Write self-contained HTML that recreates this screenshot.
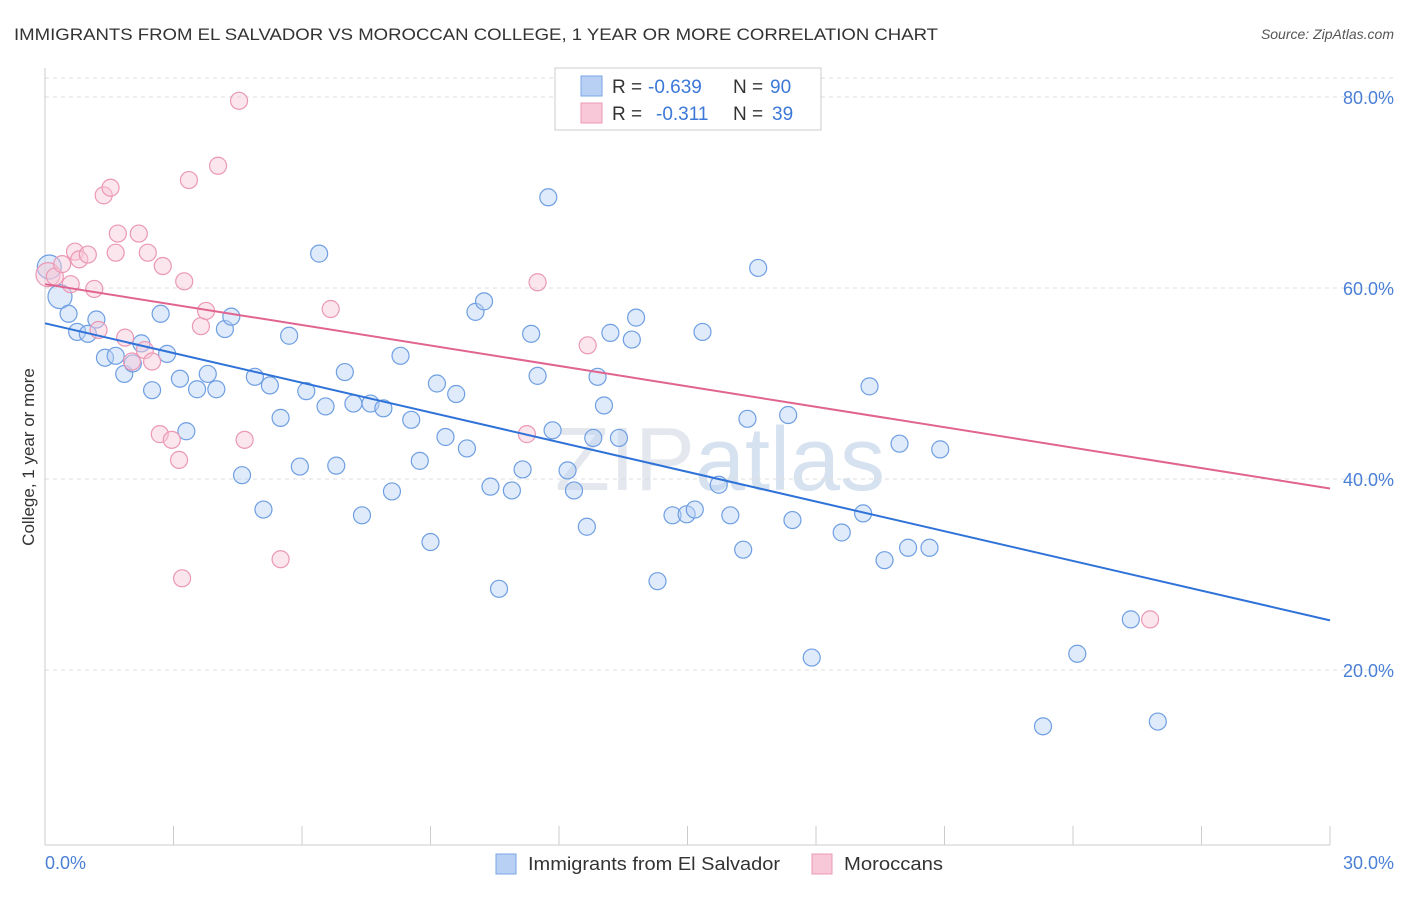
<!DOCTYPE html>
<html><head><meta charset="utf-8"><style>
body{margin:0;background:#fff;font-family:"Liberation Sans",sans-serif;}
svg text{font-family:"Liberation Sans",sans-serif;}
</style></head><body>
<svg width="1406" height="892" id="chart">
<text x="14" y="40" font-size="17" fill="#333" textLength="924" lengthAdjust="spacingAndGlyphs">IMMIGRANTS FROM EL SALVADOR VS MOROCCAN COLLEGE, 1 YEAR OR MORE CORRELATION CHART</text>
<text x="1394" y="39" font-size="14" fill="#555" text-anchor="end" font-style="italic">Source: ZipAtlas.com</text>
<text x="720" y="490" font-size="90" fill="#e4e8ee" text-anchor="middle" font-family="Liberation Serif">ZIP<tspan font-family="Liberation Sans" fill="#d6e2f0">atlas</tspan></text>
<g id="grid"></g>
<g id="axes"></g>
<g id="pts"></g>
<g id="lines"></g>
<text transform="translate(34,457) rotate(-90)" font-size="17" fill="#333" text-anchor="middle">College, 1 year or more</text>
<text x="45" y="869" font-size="18" fill="#4a7fd6">0.0%</text>
<text x="1394" y="869" font-size="18" fill="#4a7fd6" text-anchor="end">30.0%</text>
<g>
<rect x="555" y="68" width="266" height="62" fill="#fff" stroke="#ccc"/>
<rect x="581" y="76" width="21" height="20" fill="#b8d0f4" stroke="#7aa6e6"/>
<rect x="581" y="103" width="21" height="20" fill="#f9c8d8" stroke="#eb98b4"/>
<text x="612" y="93" font-size="19" fill="#333">R =</text>
<text x="648" y="93" font-size="19" fill="#3b78d8">-0.639</text>
<text x="733" y="93" font-size="19" fill="#333">N =</text>
<text x="770" y="93" font-size="19" fill="#3b78d8">90</text>
<text x="612" y="120" font-size="19" fill="#333">R =</text>
<text x="656" y="120" font-size="19" fill="#3b78d8">-0.311</text>
<text x="733" y="120" font-size="19" fill="#333">N =</text>
<text x="772" y="120" font-size="19" fill="#3b78d8">39</text>
</g>
<g>
<rect x="496" y="854" width="20" height="20" fill="#b8d0f4" stroke="#7aa6e6"/>
<text x="528" y="870" font-size="18" fill="#333" textLength="252" lengthAdjust="spacingAndGlyphs">Immigrants from El Salvador</text>
<rect x="812" y="854" width="20" height="20" fill="#f9c8d8" stroke="#eb98b4"/>
<text x="844" y="870" font-size="18" fill="#333" textLength="99" lengthAdjust="spacingAndGlyphs">Moroccans</text>
</g>
</svg>
<script>
const yTicks=[20,40,60,80];
const xTicks=[0,3,6,9,12,15,18,21,24,27,30];
const blueX=[0.1,0.35,0.55,0.75,1.0,1.2,1.4,1.65,1.85,2.05,2.25,2.5,2.7,2.85,3.15,3.3,3.55,3.8,4.0,4.2,4.35,4.6,4.9,5.1,5.25,5.5,5.7,5.95,6.1,6.4,6.55,6.8,7.0,7.2,7.4,7.6,7.9,8.1,8.3,8.55,8.75,9.0,9.15,9.35,9.6,9.85,10.05,10.25,10.4,10.6,10.9,11.15,11.35,11.5,11.75,11.85,12.2,12.35,12.65,12.8,12.9,13.05,13.2,13.4,13.7,13.8,14.3,14.65,14.98,15.17,15.35,15.73,16.0,16.3,16.4,16.65,17.35,17.45,17.9,18.6,19.1,19.25,19.6,19.95,20.15,20.65,20.9,23.3,24.1,25.35,25.98];
const blueY=[62.2,59.1,57.3,55.4,55.2,56.7,52.7,52.9,51.0,52.1,54.2,49.3,57.3,53.1,50.5,45.0,49.4,51.0,49.4,55.7,57.0,40.4,50.7,36.8,49.8,46.4,55.0,41.3,49.2,63.6,47.6,41.4,51.2,47.9,36.2,47.9,47.4,38.7,52.9,46.2,41.9,33.4,50.0,44.4,48.9,43.2,57.5,58.6,39.2,28.5,38.8,41.0,55.2,50.8,69.5,45.1,40.9,38.8,35.0,44.3,50.7,47.7,55.3,44.3,54.6,56.9,29.3,36.2,36.3,36.8,55.4,39.4,36.2,32.6,46.3,62.1,46.7,35.7,21.3,34.4,36.4,49.7,31.5,43.7,32.8,32.8,43.1,14.1,21.7,25.3,14.6];
const pinkX=[0.07,0.23,0.4,0.6,0.7,0.8,1.0,1.15,1.25,1.37,1.53,1.65,1.7,1.87,2.03,2.19,2.33,2.4,2.5,2.68,2.75,2.96,3.13,3.2,3.36,3.25,3.64,3.76,4.04,4.53,4.66,5.5,6.67,11.25,11.5,12.67,15.9,25.8];
const pinkY=[61.4,61.2,62.5,60.4,63.8,63.0,63.5,59.9,55.6,69.7,70.5,63.7,65.7,54.8,52.3,65.7,53.5,63.7,52.3,44.7,62.3,44.1,42.0,29.6,71.3,60.7,56.0,57.6,72.8,79.6,44.1,31.6,57.8,44.7,60.6,54.0,80.4,25.3];
const blueTrend=[56.3,25.2];
const pinkTrend=[60.4,39.0];
const NS='http://www.w3.org/2000/svg';
const X0=45,X1=1330,Y80=97,Y20=670;
const sx=v=>X0+(X1-X0)*v/30;
const sy=v=>Y20-(Y20-Y80)*(v-20)/60;
function mk(tag,attrs,parent){const e=document.createElementNS(NS,tag);for(const k in attrs)e.setAttribute(k,attrs[k]);document.getElementById(parent).appendChild(e);return e;}
yTicks.forEach(t=>{
 const l=mk('line',{x1:X0,x2:1394,y1:sy(t),y2:sy(t),stroke:'#ddd','stroke-dasharray':'4,4'},'grid');
 
 
 const tx=mk('text',{x:1394,y:sy(t)+7,'font-size':18,fill:'#4a7fd6','text-anchor':'end'},'grid');
 tx.textContent=t.toFixed(1)+'%';
 
 
});
mk('line',{x1:X0,x2:1394,y1:78,y2:78,stroke:'#ddd','stroke-dasharray':'4,4'},'grid');
mk('line',{x1:X0,x2:X0,y1:68,y2:845,stroke:'#ccc'},'axes');
mk('line',{x1:X0,x2:X1,y1:845,y2:845,stroke:'#ccc'},'axes');
xTicks.forEach(t=>{
 const l=mk('line',{x1:sx(t),x2:sx(t),y1:826,y2:845,stroke:'#ccc'},'axes');
 
 
});
function pts(xs,ys,fill,stroke,name){
 xs.forEach((x,i)=>{const r=(i===0)?12:(i===1&&name==='blue-point')?12:8.5;
  const c=mk('circle',{cx:sx(x),cy:sy(ys[i]),r:r,fill:fill,'fill-opacity':0.45,stroke:stroke,'stroke-width':1.2},'pts');
  
  
 });
}
pts(blueX,blueY,'#b8d0f4','#6f9fe2','blue-point');
pts(pinkX,pinkY,'#f9c8d8','#eb98b4','pink-point');
[[blueTrend,'#2f72d8','blue-trend-line'],[pinkTrend,'#e0648f','pink-trend-line']].forEach(([t,c,n])=>{
 const l=mk('line',{x1:sx(0),y1:sy(t[0]),x2:sx(30),y2:sy(t[1]),stroke:c,'stroke-width':2},'lines');
 
 
});
</script>
</body></html>
